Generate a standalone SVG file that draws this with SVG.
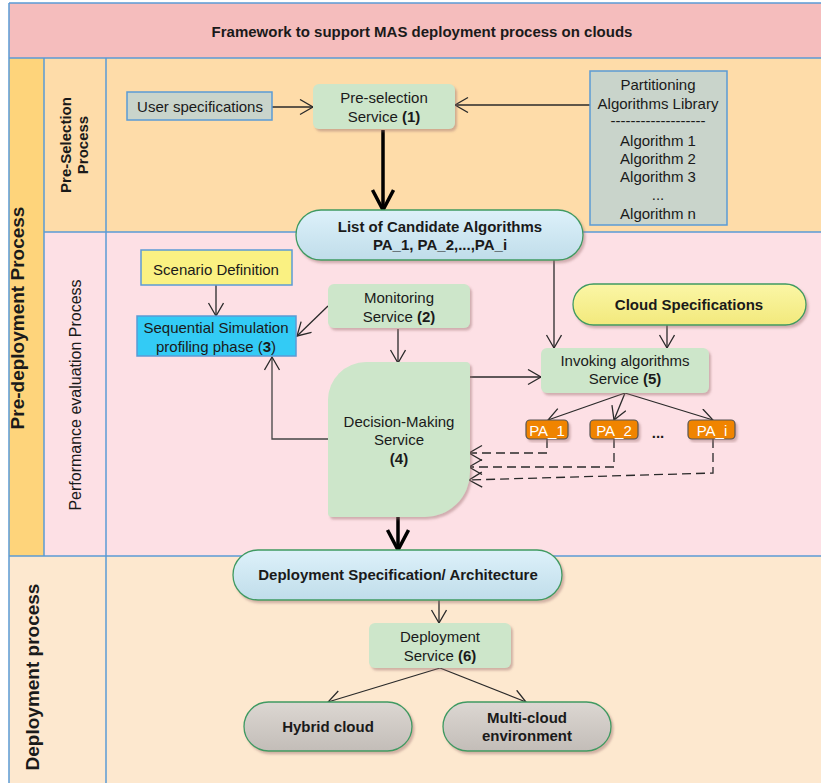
<svg xmlns="http://www.w3.org/2000/svg" width="821" height="783" viewBox="0 0 821 783">
<style>
text{font-family:"Liberation Sans",Arial,sans-serif;font-size:15px;fill:#1a1a1a}
.b{font-weight:bold}
.c{text-anchor:middle}
.lane{stroke:#5B9BD5;stroke-width:1.5;fill:none}
.box{stroke:#5B9BD5;stroke-width:1.5}
.green{fill:#CDE6CA}
.stad{stroke:#3F9A62;stroke-width:1.3}
.ln{stroke:#2a2a2a;stroke-width:1.3;fill:none}
.thick{stroke:#000;stroke-width:3.5;fill:none}
.dash{stroke:#2a2a2a;stroke-width:1.3;fill:none;stroke-dasharray:9 5}
.pa{fill:#F08400;stroke:#555;stroke-width:1.2}
.pat{fill:#fff;font-size:15px}
</style>
<defs>
<filter id="sh" x="-10%" y="-10%" width="125%" height="130%">
<feDropShadow dx="2" dy="2.5" stdDeviation="1" flood-color="#9a7070" flood-opacity="0.45"/>
</filter>
<linearGradient id="gBlue" x1="0" y1="0" x2="0" y2="1"><stop offset="0" stop-color="#DDF1FA"/><stop offset="1" stop-color="#C0DDEA"/></linearGradient>
<linearGradient id="gYel" x1="0" y1="0" x2="0" y2="1"><stop offset="0" stop-color="#FBF6A6"/><stop offset="1" stop-color="#F2E97C"/></linearGradient>
<linearGradient id="gGray" x1="0" y1="0" x2="0" y2="1"><stop offset="0" stop-color="#DCD7D2"/><stop offset="1" stop-color="#C3BDB8"/></linearGradient>
<marker id="ar" markerUnits="userSpaceOnUse" markerWidth="18" markerHeight="18" refX="14" refY="8" orient="auto">
<path d="M1,0.5 L14,8 L1,15.5" fill="none" stroke="#2a2a2a" stroke-width="1.3"/>
</marker>
<marker id="arT" markerUnits="userSpaceOnUse" markerWidth="28" markerHeight="28" refX="21" refY="12" orient="auto">
<path d="M1,1.5 L21,12 L1,22.5" fill="none" stroke="#000" stroke-width="3.5"/>
</marker>
</defs>

<g id="lanes">
<rect x="9" y="3" width="812" height="55" fill="#F5BDBD"/>
<rect x="106" y="58" width="715" height="174" fill="#FEDCA9"/>
<rect x="44" y="58" width="62" height="174" fill="#FEDCA9"/>
<rect x="106" y="232" width="715" height="324" fill="#FDE0E5"/>
<rect x="44" y="232" width="62" height="324" fill="#FDE0E5"/>
<rect x="9" y="556" width="812" height="227" fill="#FDE8CF"/>
<rect x="9" y="58" width="35" height="498" fill="#FED47B"/>
<path class="lane" d="M9,3 H821 M9,58 H821 M44,232 H821 M9,556 H821 M9,3 V783 M44,58 V556 M106,58 V783"/>
<text class="b c" x="422" y="37">Framework to support MAS deployment process on clouds</text>
<text class="b c" transform="translate(24,318) rotate(-90)" style="font-size:19px">Pre-deployment Process</text>
<text class="b c" transform="translate(71,145) rotate(-90)">Pre-Selection<tspan x="0" dy="17">Process</tspan></text>
<text class="c" transform="translate(81,395) rotate(-90)" style="font-size:16px">Performance evaluation Process</text>
<text class="b c" transform="translate(39,677) rotate(-90)" style="font-size:19px">Deployment process</text>
</g>

<g id="connectors">
<line class="ln" x1="272" y1="107" x2="313" y2="107" marker-end="url(#ar)"/>
<line class="ln" x1="590" y1="105" x2="455" y2="105" marker-end="url(#ar)"/>
<line class="thick" x1="383" y1="130" x2="383" y2="210" marker-end="url(#arT)"/>
<line class="ln" x1="554" y1="260" x2="554" y2="348" marker-end="url(#ar)"/>
<line class="ln" x1="216" y1="285" x2="216" y2="316" marker-end="url(#ar)"/>
<line class="ln" x1="328" y1="306" x2="297" y2="336" marker-end="url(#ar)"/>
<line class="ln" x1="398" y1="329" x2="398" y2="363" marker-end="url(#ar)"/>
<polyline class="ln" points="328,439 272,439 272,357" style="stroke:#444" marker-end="url(#ar)"/>
<line class="ln" x1="470" y1="377" x2="541" y2="377" marker-end="url(#ar)"/>
<line class="ln" x1="667" y1="325" x2="667" y2="348" marker-end="url(#ar)"/>
<line class="ln" x1="625" y1="393" x2="548" y2="420" marker-end="url(#ar)"/>
<line class="ln" x1="625" y1="393" x2="614" y2="420" marker-end="url(#ar)"/>
<line class="ln" x1="625" y1="393" x2="713" y2="420" marker-end="url(#ar)"/>
<polyline class="dash" points="547,439 547,453 469,453" marker-end="url(#ar)"/>
<polyline class="dash" points="614,439 614,467 469,467" marker-end="url(#ar)"/>
<polyline class="dash" points="713,439 713,473 469,480" marker-end="url(#ar)"/>
<line class="thick" x1="398" y1="517" x2="398" y2="550" marker-end="url(#arT)"/>
<line class="ln" x1="439" y1="600" x2="439" y2="623" marker-end="url(#ar)"/>
<line class="ln" x1="440" y1="668" x2="328" y2="702" marker-end="url(#ar)"/>
<line class="ln" x1="440" y1="668" x2="526" y2="702" marker-end="url(#ar)"/>
</g>

<g id="user-spec">
<rect class="box" x="127" y="92" width="145" height="28" fill="#C9D4CB"/>
<text class="c" x="200" y="112">User specifications</text>
</g>

<g id="preselection">
<rect class="green" x="313" y="84" width="142" height="45" rx="6" filter="url(#sh)"/>
<text class="c" x="384" y="103">Pre-selection</text>
<text class="c" x="384" y="122">Service <tspan class="b">(1)</tspan></text>
</g>

<g id="library">
<rect class="box" x="590" y="71" width="137" height="154" fill="#C9D4CB"/>
<text class="c" x="658" y="90">Partitioning</text>
<text class="c" x="658" y="109">Algorithms Library</text>
<text class="c" x="658" y="126">-------------------</text>
<text class="c" x="658" y="146">Algorithm 1</text>
<text class="c" x="658" y="164">Algorithm 2</text>
<text class="c" x="658" y="182">Algorithm 3</text>
<text class="c" x="658" y="200">...</text>
<text class="c" x="658" y="219">Algorithm n</text>
</g>

<g id="candidates">
<rect class="stad" x="296" y="210" width="287" height="50" rx="25" fill="url(#gBlue)" filter="url(#sh)"/>
<text class="b c" x="440" y="232">List of Candidate Algorithms</text>
<text class="b c" x="440" y="250">PA_1, PA_2,...,PA_i</text>
</g>

<g id="scenario">
<rect class="box" x="141" y="250" width="151" height="35" fill="#FAF182"/>
<text class="c" x="216" y="275">Scenario Definition</text>
</g>

<g id="sequential">
<rect class="box" x="137" y="316" width="159" height="40" fill="#33CBF5"/>
<text class="c" x="216" y="333">Sequential Simulation</text>
<text class="c" x="216" y="352">profiling phase (<tspan class="b">3</tspan>)</text>
</g>

<g id="monitoring">
<rect class="green" x="328" y="284" width="142" height="44" rx="6" filter="url(#sh)"/>
<text class="c" x="399" y="303">Monitoring</text>
<text class="c" x="399" y="322">Service <tspan class="b">(2)</tspan></text>
</g>

<g id="decision">
<path class="green" d="M366,362 L466,362 Q470,362 470,366 L470,472 A45,45 0 0 1 425,517 L332,517 Q328,517 328,513 L328,400 A38,38 0 0 1 366,362 Z" filter="url(#sh)"/>
<text class="c" x="399" y="427">Decision-Making</text>
<text class="c" x="399" y="445">Service</text>
<text class="b c" x="399" y="464">(4)</text>
</g>

<g id="cloud-spec">
<rect class="stad" x="573" y="284" width="233" height="41" rx="20.5" fill="url(#gYel)" filter="url(#sh)"/>
<text class="b c" x="689" y="310">Cloud Specifications</text>
</g>

<g id="invoking">
<rect class="green" x="541" y="348" width="168" height="45" rx="6" filter="url(#sh)"/>
<text class="c" x="625" y="366">Invoking algorithms</text>
<text class="c" x="625" y="384">Service <tspan class="b">(5)</tspan></text>
</g>

<g id="pa1">
<rect class="pa" x="526" y="420" width="42" height="19" rx="4" filter="url(#sh)"/>
<text class="c pat" x="547" y="436">PA_1</text>
</g>
<g id="pa2">
<rect class="pa" x="590" y="420" width="48" height="19" rx="4" filter="url(#sh)"/>
<text class="c pat" x="614" y="436">PA_2</text>
</g>
<g id="dots">
<text class="b c" x="658" y="438">...</text>
</g>
<g id="pai">
<rect class="pa" x="688" y="420" width="47" height="19" rx="4" filter="url(#sh)"/>
<text class="c pat" x="712" y="436">PA_i</text>
</g>

<g id="deploy-spec">
<rect class="stad" x="233" y="550" width="329" height="50" rx="25" fill="url(#gBlue)" filter="url(#sh)"/>
<text class="b c" x="398" y="580">Deployment Specification/ Architecture</text>
</g>

<g id="deploy-service">
<rect class="green" x="369" y="623" width="142" height="45" rx="6" filter="url(#sh)"/>
<text class="c" x="440" y="642">Deployment</text>
<text class="c" x="440" y="661">Service <tspan class="b">(6)</tspan></text>
</g>

<g id="hybrid">
<rect class="stad" x="244" y="702" width="168" height="49" rx="24.5" fill="url(#gGray)" filter="url(#sh)"/>
<text class="b c" x="328" y="732">Hybrid cloud</text>
</g>

<g id="multicloud">
<rect class="stad" x="443" y="702" width="168" height="49" rx="24.5" fill="url(#gGray)" filter="url(#sh)"/>
<text class="b c" x="527" y="723">Multi-cloud</text>
<text class="b c" x="527" y="741">environment</text>
</g>
</svg>
